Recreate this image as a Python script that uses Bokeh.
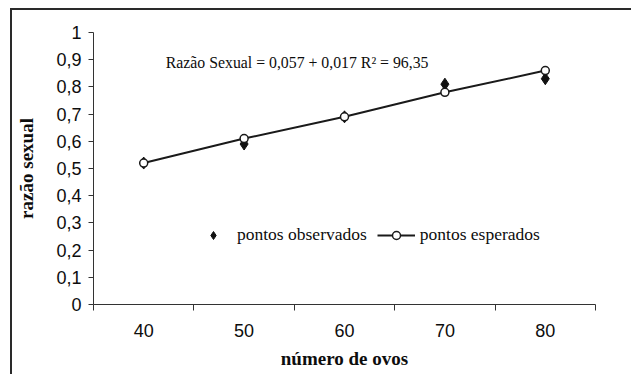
from bokeh.plotting import figure
from bokeh.models import (Range1d, FixedTicker, Legend, LegendItem, Label, InlineStyleSheet)
from bokeh.embed import file_html
from bokeh.resources import INLINE

# ---- data ----
num_ovos = [40, 50, 60, 70, 80]
x_tick_labels = ["40", "50", "60", "70", "80"]
observados = [0.52, 0.59, 0.69, 0.81, 0.83]
esperados = [0.52, 0.61, 0.69, 0.78, 0.86]
y_ticks = [0, 0.1, 0.2, 0.3, 0.4, 0.5, 0.6, 0.7, 0.8, 0.9, 1.0]
y_tick_labels = ["0", "0,1", "0,2", "0,3", "0,4", "0,5", "0,6", "0,7", "0,8", "0,9", "1"]
x_bounds = [35, 45, 55, 65, 75, 85]
equation = "Razão Sexual = 0,057 + 0,017 R² = 96,35"

SERIF = "Liberation Serif"
SANS = "Liberation Sans"

border_css = InlineStyleSheet(css="""
:host { position: relative; }
:host::after {
  content: "";
  position: absolute;
  left: 10px; top: 8px; right: 0px; bottom: 0px;
  border-left: 2px solid #2a2a2a;
  border-top: 2px solid #2a2a2a;
  pointer-events: none;
}
""")

p = figure(width=631, height=374, output_backend="svg", toolbar_location=None,
           x_range=Range1d(35, 85), y_range=Range1d(0, 1),
           min_border_left=93, min_border_right=36, min_border_top=32,
           min_border_bottom=70, stylesheets=[border_css])
p.outline_line_color = None
p.xgrid.visible = False
p.ygrid.visible = False
p.background_fill_color = "white"
p.border_fill_color = "white"

# x axis
xa = p.xaxis[0]
xa.ticker = FixedTicker(ticks=num_ovos, minor_ticks=x_bounds)
xa.major_label_overrides = {v: s for v, s in zip(num_ovos, x_tick_labels)}
xa.major_tick_line_color = None
xa.major_tick_out = 6
xa.major_tick_in = 0
xa.minor_tick_line_color = "#333333"
xa.minor_tick_out = 6
xa.minor_tick_in = 0
xa.axis_line_color = "#333333"
xa.major_label_text_font = SANS
xa.major_label_text_font_size = "18px"
xa.major_label_text_color = "#0d0d0d"
xa.major_label_standoff = 13
xa.axis_label = "número de ovos"
xa.axis_label_text_font = SERIF
xa.axis_label_text_font_style = "bold"
xa.axis_label_text_font_size = "19px"
xa.axis_label_text_color = "#0d0d0d"
xa.axis_label_standoff = 8

# y axis
ya = p.yaxis[0]
ya.ticker = FixedTicker(ticks=y_ticks)
ya.major_label_overrides = {v: s for v, s in zip(y_ticks, y_tick_labels)}
ya.minor_tick_line_color = None
ya.major_tick_out = 5
ya.major_tick_in = 0
ya.major_tick_line_color = "#333333"
ya.axis_line_color = "#333333"
ya.major_label_text_font = SANS
ya.major_label_text_font_size = "18px"
ya.major_label_text_color = "#0d0d0d"
ya.major_label_standoff = 7
ya.axis_label = "razão sexual"
ya.axis_label_text_font = SERIF
ya.axis_label_text_font_style = "bold"
ya.axis_label_text_font_size = "19px"
ya.axis_label_text_color = "#0d0d0d"
ya.axis_label_standoff = 16

# series
obs = p.scatter(num_ovos, observados, marker="diamond", size=12,
                fill_color="#111111", line_color="#111111")
ln = p.line(num_ovos, esperados, line_width=2, line_color="#1a1a1a")
circ = p.scatter(num_ovos, esperados, marker="circle", size=8, fill_color="white",
                 line_color="#1a1a1a", line_width=1.5)

legend = Legend(items=[LegendItem(label="pontos observados", renderers=[obs]),
                       LegendItem(label="pontos esperados", renderers=[ln, circ])],
                orientation="horizontal", location=(101, 59),
                glyph_width=38, glyph_height=20, label_standoff=5, spacing=10,
                padding=0, margin=0, border_line_color=None,
                background_fill_alpha=0,
                label_text_font=SERIF, label_text_font_size="17.5px",
                label_text_color="#0d0d0d")
p.add_layout(legend, "center")

p.add_layout(Label(x=42.2, y=0.89, text=equation, text_font=SERIF,
                   text_font_size="15.8px", text_color="#0d0d0d",
                   text_align="left", text_baseline="middle"))

open("out.html", "w").write(file_html(p, INLINE))
